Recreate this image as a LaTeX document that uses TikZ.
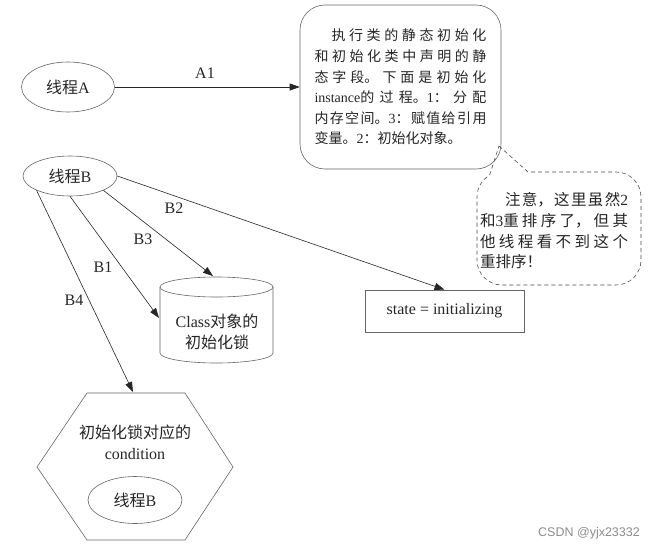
\documentclass[tikz,border=0pt]{standalone}
\usepackage{fontspec}
\setmainfont{Liberation Serif}
\newfontfamily\cjk{Noto Sans CJK SC}
\newfontfamily\wmfont{Liberation Sans}
\usetikzlibrary{shapes.geometric,arrows.meta}
\newcommand\zh[1]{{\cjk #1}}
\newcommand\zhpar{\XeTeXlinebreaklocale "zh"\XeTeXlinebreakskip=0pt plus 12pt\relax\tolerance=9999\relax}
\begin{document}
\begin{tikzpicture}[x=1pt,y=-1pt,
  lbl/.style={font=\fontsize{16}{21}\selectfont, text=black!85, inner sep=0pt},
  thread/.style={ellipse, draw=black!60, line width=0.6pt, minimum width=94pt, minimum height=44pt, inner sep=0pt, text=black!85, font=\fontsize{16}{19}\selectfont},
  conn/.style={draw=black!85, line width=0.6pt, -{Triangle[length=10pt,width=7pt]}},
  shp/.style={draw=black!60, line width=0.6pt},
  callout/.style={draw=black!70, line width=0.6pt, dash pattern=on 4pt off 3pt},
]
\useasboundingbox (0,0) rectangle (655,551);
\fill[white] (0,0) rectangle (655,551);

% thread nodes
\node[thread, minimum width=93pt, minimum height=50pt] (A) at (68,87) {\zh{线程}A};
\node[thread, minimum height=40pt] (B) at (70,176) {\zh{线程}B};

% rounded info box
\node[shp, rounded corners=25pt, text width=172pt, inner xsep=14.5pt, inner ysep=0pt,
      minimum height=164pt, align=justify, text=black!85,
      font=\fontsize{14}{20.6}\selectfont\zhpar] (init) at (400.5,87)
  {\hspace*{17pt}\zh{执行类的静态初始化}\linebreak
   \zh{和初始化类中声明的静}\linebreak
   \zh{态字段。下面是初始化}\linebreak
   instance\zh{的过程。}1\zh{：分配}\linebreak
   \zh{内存空间。}3\zh{：赋值给引用}\linebreak
   \zh{变量。}2\zh{：初始化对象。}};

% dashed callout
\coordinate (tip) at (499,146);
\draw[callout] (tip) -- (528,172) -- (616,172)
  arc[start angle=-90, end angle=0, radius=25] -- (641,260)
  arc[start angle=0, end angle=90, radius=25] -- (502,285)
  arc[start angle=90, end angle=180, radius=25] -- (477,197)
  arc[start angle=180, end angle=240, radius=25] -- cycle;
\node[lbl, text width=148pt, align=justify, font=\fontsize{15.5}{20.7}\selectfont\zhpar] (note) at (554,231)
  {\hspace*{25pt}\zh{注意，这里虽然}2\linebreak
   \zh{和}3\zh{重排序了，但其}\linebreak
   \zh{他线程看不到这个}\linebreak
   \zh{重排序！}};

% state box
\node[shp, rectangle, minimum width=159pt, minimum height=42pt, inner sep=0pt, text=black!85,
      font=\fontsize{16}{19}\selectfont] (state) at (444.5,311) {state = initializing};

% cylinder
\draw[shp] (216.5,287) ellipse [x radius=56.5, y radius=10];
\draw[shp] (160,287) -- (160,353) arc[start angle=180, end angle=0, x radius=56.5, y radius=10] -- (273,287);
\node[lbl, align=center] (cyltext) at (217,332) {Class\zh{对象的}\\\zh{初始化锁}};
\coordinate (cylT) at (213,276);
\coordinate (cylL) at (159,318);

% hexagon
\draw[shp] (37,467) -- (87,393) -- (185,393) -- (233,467) -- (185,540) -- (87,540) -- cycle;
\node[lbl, align=center] (hextext) at (135,442) {\zh{初始化锁对应的}\\condition};
\node[thread, minimum height=47pt] (Bin) at (135,500) {\zh{线程}B};
\coordinate (hexT) at (133,392);

% connectors
\draw[conn] (A.east) -- (init.west);
\draw[conn] (B.east) -- (state.north);
\draw[conn] (B.south east) -- (cylT);
\draw[conn] (B.south) -- (cylL);
\draw[conn] (B.south west) -- (hexT);

% labels
\node[lbl] (lA1) at (205,73) {A1};
\node[lbl] (lB2) at (174,208) {B2};
\node[lbl] (lB3) at (143,239) {B3};
\node[lbl] (lB1) at (103,267) {B1};
\node[lbl] (lB4) at (74,300) {B4};

% watermark
\node[anchor=east, inner sep=0pt, text=black!45, font=\wmfont\fontsize{12.5}{14}\selectfont] (wm) at (640,533) {CSDN @yjx23332};
\end{tikzpicture}
\end{document}
